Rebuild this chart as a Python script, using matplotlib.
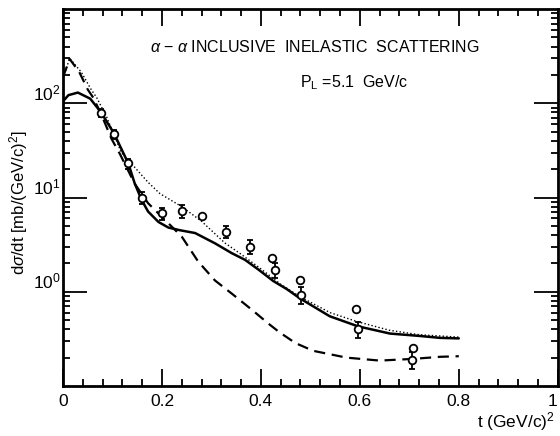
import matplotlib
matplotlib.use("Agg")
import matplotlib.pyplot as plt
from matplotlib.ticker import LogLocator, NullFormatter, MultipleLocator

plt.rcParams["font.family"] = ["Liberation Sans", "DejaVu Sans"]
plt.rcParams["mathtext.fontset"] = "custom"
plt.rcParams["mathtext.rm"] = "Liberation Sans"
plt.rcParams["mathtext.it"] = "Liberation Sans:italic"

# data points with error bars
pts_t = [0.077, 0.104, 0.132, 0.160, 0.200, 0.240, 0.330, 0.377, 0.428, 0.482, 0.596, 0.706]
pts_y = [79, 47, 23, 10, 6.8, 7.2, 4.35, 3.0, 1.71, 0.93, 0.40, 0.19]
pts_err = [0.10, 0.10, 0.12, 0.15, 0.15, 0.15, 0.15, 0.17, 0.18, 0.20, 0.20, 0.20]

# open points without error bars
open_t = [0.280, 0.423, 0.480, 0.593, 0.708]
open_y = [6.3, 2.27, 1.33, 0.656, 0.251]

# theory curves
solid_t = [0, 0.011, 0.030, 0.055, 0.077, 0.103, 0.132, 0.145, 0.159, 0.172, 0.193, 0.213,
           0.236, 0.267, 0.307, 0.341, 0.368, 0.395, 0.425, 0.452, 0.479, 0.539, 0.596,
           0.661, 0.720, 0.762, 0.800]
solid_y = [105, 122, 130, 112, 80, 48, 23, 14.1, 9.4, 7.1, 5.5, 4.8,
           4.5, 4.2, 3.27, 2.57, 2.18, 1.72, 1.3, 1.07, 0.85, 0.55, 0.43,
           0.36, 0.34, 0.324, 0.32]

dash_t = [0, 0.0135, 0.033, 0.050, 0.061, 0.078, 0.098, 0.115, 0.145, 0.172, 0.206, 0.240,
          0.273, 0.307, 0.344, 0.384, 0.415, 0.438, 0.470, 0.506, 0.573, 0.640, 0.708, 0.762,
          0.800]
dash_y = [190, 295, 214, 140, 115, 75, 42, 29, 14, 8.7, 5.8, 3.85,
          2.1, 1.32, 0.93, 0.63, 0.46, 0.37, 0.285, 0.236, 0.20, 0.186, 0.194, 0.204,
          0.207]

dot_t = [0, 0.0135, 0.037, 0.057, 0.068, 0.088, 0.104, 0.118, 0.135, 0.156, 0.172, 0.196,
         0.240, 0.280, 0.327, 0.360, 0.400, 0.440, 0.480, 0.540, 0.593, 0.660, 0.720, 0.800]
dot_y = [185, 300, 214, 140, 115, 72, 45, 30, 24, 18, 14.5, 11,
         8.0, 5.6, 3.3, 2.5, 1.75, 1.2, 0.88, 0.6, 0.485, 0.39, 0.35, 0.33]

fig = plt.figure(figsize=(5.6, 4.36), dpi=100)
ax = fig.add_axes([0.1125, 0.1147, 0.8835, 0.8645])

ax.plot(solid_t, solid_y, color="black", linewidth=1.8, solid_capstyle="round")
ax.plot(dash_t, dash_y, color="black", linewidth=1.6, dashes=(5, 3))
ax.plot(dot_t, dot_y, color="black", linewidth=1.0, linestyle=(0, (1, 1.6)))

ax.errorbar(pts_t, pts_y,
            yerr=[[y * e for y, e in zip(pts_y, pts_err)],
                  [y * e for y, e in zip(pts_y, pts_err)]],
            fmt="o", mfc="white", mec="black", mew=1.3, ms=5.5,
            ecolor="black", elinewidth=1.3, capsize=2.5, capthick=1.3, zorder=5)
ax.plot(open_t, open_y, "o", mfc="white", mec="black", mew=1.3, ms=5.5, zorder=5)

ax.set_yscale("log")
ax.set_xlim(0, 1)
ax.set_ylim(0.1, 1000)

ax.set_yticks([1, 10, 100])
ax.set_yticklabels(["$10^0$", "$10^1$", "$10^2$"], fontsize=12.5, va="bottom")
ax.yaxis.set_minor_locator(LogLocator(base=10, subs=range(2, 10)))
ax.yaxis.set_minor_formatter(NullFormatter())

ax.set_xticks([0, 0.2, 0.4, 0.6, 0.8, 1.0])
ax.set_xticklabels(["0", "0.2", "0.4", "0.6", "0.8", "1"], fontsize=12.5)
ax.get_xticklabels()[-1].set_horizontalalignment("right")
ax.xaxis.set_minor_locator(MultipleLocator(0.04))

ax.tick_params(which="both", direction="in", top=True, right=True, width=1.3)
ax.tick_params(axis="y", which="major", length=17, pad=1.5)
ax.tick_params(axis="x", which="major", length=12, pad=6)
ax.tick_params(which="minor", length=5)
for spine in ax.spines.values():
    spine.set_linewidth(2)

ax.text(0.51, 0.9, r"$\alpha$ $-$ $\alpha$ INCLUSIVE  INELASTIC  SCATTERING",
        transform=ax.transAxes, ha="center", va="center", fontsize=11.5)
ax.text(0.479, 0.805, r"P$_\mathrm{L}$ =5.1  GeV/c",
        transform=ax.transAxes, ha="left", va="center", fontsize=11.5)

fig.text(0.034, 0.535, r"d$\sigma$/dt [mb/(GeV/c)$^2$]", rotation=90,
         ha="center", va="center", fontsize=12)
fig.text(0.99, 0.008, r"t (GeV/c)$^2$", ha="right", va="bottom", fontsize=12.5)

fig.savefig("out.png", dpi=100)
